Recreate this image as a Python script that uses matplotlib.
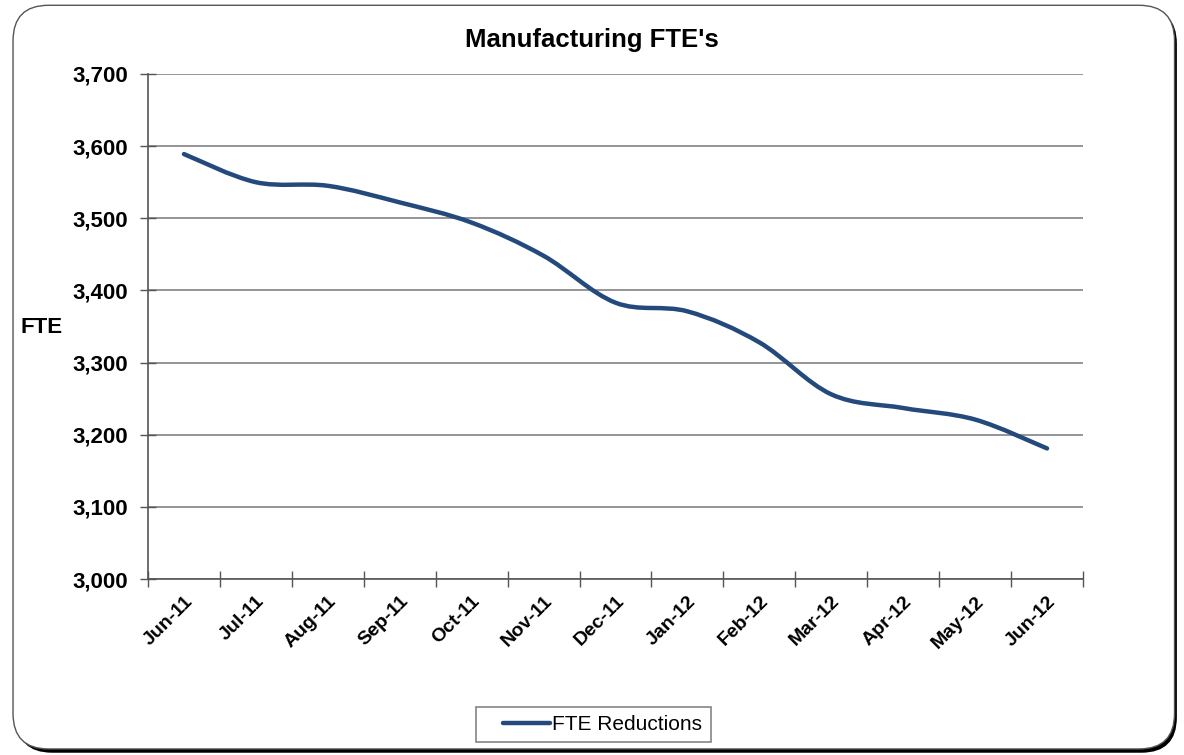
import numpy as np
import matplotlib.pyplot as plt
from matplotlib.path import Path
from matplotlib.patches import PathPatch, FancyBboxPatch
from matplotlib.lines import Line2D
from matplotlib.legend_handler import HandlerLine2D
from matplotlib.ticker import FuncFormatter, FixedLocator

plt.rcParams['font.family'] = ['Liberation Sans', 'DejaVu Sans']

months = ['Jun-11', 'Jul-11', 'Aug-11', 'Sep-11', 'Oct-11', 'Nov-11', 'Dec-11',
          'Jan-12', 'Feb-12', 'Mar-12', 'Apr-12', 'May-12', 'Jun-12']
fte = [3589, 3550, 3545, 3522, 3494, 3448, 3383, 3371, 3328, 3256, 3237, 3221, 3181]

line_color = '#24497c'

fig = plt.figure(figsize=(11.84, 7.55), dpi=100)

# rounded outer frame with a dark drop shadow
shadow = FancyBboxPatch((0.014, 0.003), 0.98, 0.986, boxstyle='round,pad=0,rounding_size=0.03',
                        transform=fig.transFigure, facecolor='black', edgecolor='none',
                        mutation_aspect=1184/755, zorder=0)
frame = FancyBboxPatch((0.011, 0.008), 0.981, 0.985, boxstyle='round,pad=0,rounding_size=0.03',
                       transform=fig.transFigure, facecolor='white', edgecolor='#555555',
                       linewidth=1.0, mutation_aspect=1184/755, zorder=1)
fig.patches.extend([shadow, frame])

ax = fig.add_axes([0.125, 0.2331, 0.7897, 0.6689])
ax.set_zorder(2)
ax.patch.set_alpha(0)

x = np.arange(len(months))
y = np.array(fte, dtype=float)

# smoothed line: cubic Bezier segments with Catmull-Rom control points
xp = np.concatenate([[x[0]], x, [x[-1]]])
yp = np.concatenate([[y[0]], y, [y[-1]]])
verts = [(x[0], y[0])]
codes = [Path.MOVETO]
for i in range(1, len(xp) - 2):
    c1 = (xp[i] + (xp[i + 1] - xp[i - 1]) / 6, yp[i] + (yp[i + 1] - yp[i - 1]) / 6)
    c2 = (xp[i + 1] - (xp[i + 2] - xp[i]) / 6, yp[i + 1] - (yp[i + 2] - yp[i]) / 6)
    verts += [c1, c2, (xp[i + 1], yp[i + 1])]
    codes += [Path.CURVE4] * 3
curve = PathPatch(Path(verts, codes), facecolor='none', edgecolor=line_color,
                  linewidth=3.2, capstyle='round', joinstyle='round', zorder=3)
ax.add_patch(curve)

ax.set_xlim(-0.5, len(months) - 0.5)
ax.set_ylim(3000, 3700)
ax.set_yticks(np.arange(3000, 3701, 100))
ax.yaxis.set_major_formatter(FuncFormatter(lambda v, p: f'{v:,.0f}'))
ax.grid(axis='y', color='#8c8c8c', linewidth=1.3)
ax.set_axisbelow(True)

ax.xaxis.set_major_locator(FixedLocator(x))
ax.set_xticklabels(months, rotation=45, ha='right', rotation_mode='anchor',
                   fontsize=14, fontweight='bold')
ax.xaxis.set_minor_locator(FixedLocator(np.arange(-0.5, len(months), 1)))
ax.tick_params(axis='x', which='major', length=0, pad=10)
ax.tick_params(axis='x', which='minor', direction='inout', length=12, color='#555555', width=1)
ax.tick_params(axis='y', direction='inout', length=12, color='#555555', width=1, pad=8,
               labelsize=16)
for lbl in ax.get_yticklabels():
    lbl.set_fontweight('bold')

for s in ['top', 'right']:
    ax.spines[s].set_visible(False)
for s in ['left', 'bottom']:
    ax.spines[s].set_color('#555555')
    ax.spines[s].set_linewidth(1.2)

fig.text(0.5, 1 - 40 / 755, "Manufacturing FTE's", fontsize=18.5, fontweight='bold',
         ha='center', va='center')
fig.text(0.035, 1 - 327 / 755, 'FTE', fontsize=16, fontweight='bold', ha='center', va='center')

handle = Line2D([], [], color=line_color, linewidth=3.2, solid_capstyle='round')
leg = fig.legend([handle], ['FTE Reductions'], loc='center', bbox_to_anchor=(0.501, 0.0404),
                 fontsize=15, frameon=True, fancybox=False, edgecolor='#666666',
                 handlelength=3.17, handletextpad=0.1, borderpad=0.4, borderaxespad=0,
                 handler_map={Line2D: HandlerLine2D(xpad=0.9)})
leg.get_frame().set_linewidth(1.2)
leg.set_zorder(5)

fig.savefig('out.png', dpi=100)
